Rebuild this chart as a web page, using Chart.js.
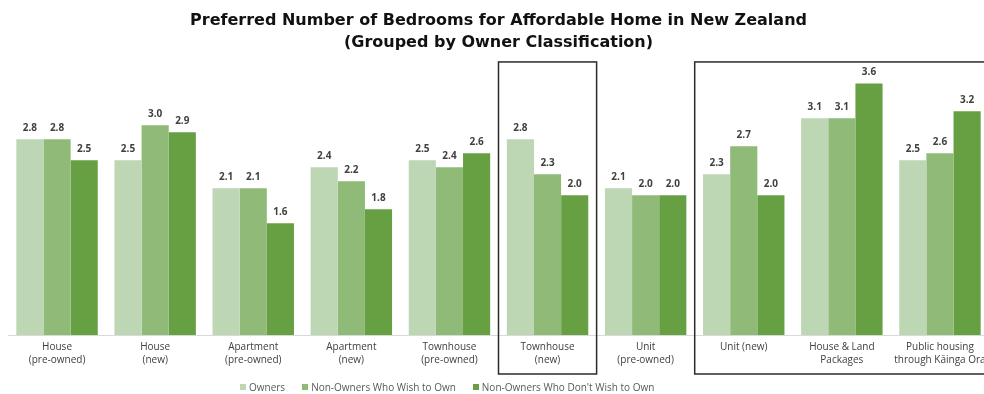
<!DOCTYPE html>
<html>
<head>
<meta charset="utf-8">
<script src="https://cdn.jsdelivr.net/npm/chart.js@4.4.1/dist/chart.umd.min.js"></script>
<style>
  html, body { margin: 0; padding: 0; background: #fff; overflow: hidden; }
  #wrap { position: relative; width: 998px; height: 394px; }
  #legend { position: absolute; top: 380px; left: 240px; display: flex; font: 10px "Open Sans", sans-serif; color: #595959; }
  #legend span.item { display: flex; align-items: center; margin-right: 17px; white-space: nowrap; }
  #legend i { display: inline-block; width: 6px; height: 6px; margin-right: 3px; }
</style>
</head>
<body>
<div id="wrap">
  <canvas id="chart" width="998" height="394"></canvas>
  <div id="legend"></div>
</div>
<script>
// --- data ---
const categories = [
    ['House', '(pre-owned)'],
    ['House', '(new)'],
    ['Apartment', '(pre-owned)'],
    ['Apartment', '(new)'],
    ['Townhouse', '(pre-owned)'],
    ['Townhouse', '(new)'],
    ['Unit', '(pre-owned)'],
    ['Unit (new)'],
    ['House & Land', 'Packages'],
    ['Public housing', 'through Kāinga Ora']
];
const seriesNames = ['Owners', 'Non-Owners Who Wish to Own', "Non-Owners Who Don't Wish to Own"];
const owners      = [2.8, 2.5, 2.1, 2.4, 2.5, 2.8, 2.1, 2.3, 3.1, 2.5];
const wishToOwn   = [2.8, 3.0, 2.1, 2.2, 2.4, 2.3, 2.0, 2.7, 3.1, 2.6];
const noWishToOwn = [2.5, 2.9, 1.6, 1.8, 2.6, 2.0, 2.0, 2.0, 3.6, 3.2];
const boxedGroups = [[5, 5], [7, 9]];

const colors = ['#bdd6b4', '#8fba78', '#66a043'];

// --- value labels above each bar ---
const valueLabels = {
    id: 'valueLabels',
    afterDatasetsDraw(chart) {
        const ctx = chart.ctx;
        ctx.save();
        ctx.font = 'bold 10px "Open Sans", sans-serif';
        ctx.fillStyle = '#404040';
        ctx.textAlign = 'center';
        ctx.textBaseline = 'middle';
        chart.data.datasets.forEach((ds, i) => {
            chart.getDatasetMeta(i).data.forEach((bar, j) => {
                ctx.fillText(ds.data[j].toFixed(1), bar.x, bar.y - 11);
            });
        });
        ctx.restore();
    }
};

// --- rectangles around some groups ---
const groupBoxes = {
    id: 'groupBoxes',
    afterDraw(chart) {
        const x = chart.scales.x;
        const area = chart.chartArea;
        const half = (area.right - area.left) / categories.length / 2;
        const ctx = chart.ctx;
        ctx.save();
        ctx.strokeStyle = '#2b2b2b';
        ctx.lineWidth = 1.5;
        boxedGroups.forEach(([a, b]) => {
            const left = x.getPixelForValue(a) - half;
            const right = x.getPixelForValue(b) + half;
            ctx.strokeRect(left, area.top + 6.5, right - left, area.bottom - area.top + 32.5);
        });
        ctx.restore();
    }
};

new Chart(document.getElementById('chart'), {
    type: 'bar',
    data: {
        labels: categories,
        datasets: [owners, wishToOwn, noWishToOwn].map((d, i) => ({
            label: seriesNames[i],
            data: d,
            backgroundColor: colors[i],
            borderWidth: 0,
            barPercentage: 1.0,
            categoryPercentage: 0.83
        }))
    },
    options: {
        responsive: false,
        animation: false,
        layout: { padding: { left: 8, right: 9, top: 0, bottom: 22 } },
        plugins: {
            legend: { display: false },
            tooltip: { enabled: false },
            title: {
                display: true,
                text: ['Preferred Number of Bedrooms for Affordable Home in New Zealand', '(Grouped by Owner Classification)'],
                color: '#111',
                font: { family: 'DejaVu Sans', size: 16, weight: 'bold', lineHeight: 1.42 },
                padding: { top: 9, bottom: 1 }
            }
        },
        scales: {
            y: { display: false, min: 0, max: 4 },
            x: {
                grid: { display: false, drawTicks: false },
                border: { display: true, color: '#d9d9d9', width: 1 },
                ticks: {
                    color: '#404040',
                    padding: 6,
                    maxRotation: 0,
                    autoSkip: false,
                    font: { family: 'Open Sans', size: 10, lineHeight: 1.25 }
                }
            }
        }
    },
    plugins: [valueLabels, groupBoxes]
});

// legend as plain text
const legend = document.getElementById('legend');
seriesNames.forEach((name, i) => {
    const item = document.createElement('span');
    item.className = 'item';
    item.innerHTML = '<i style="background:' + colors[i] + '"></i>' + name;
    legend.appendChild(item);
});
</script>
</body>
</html>
